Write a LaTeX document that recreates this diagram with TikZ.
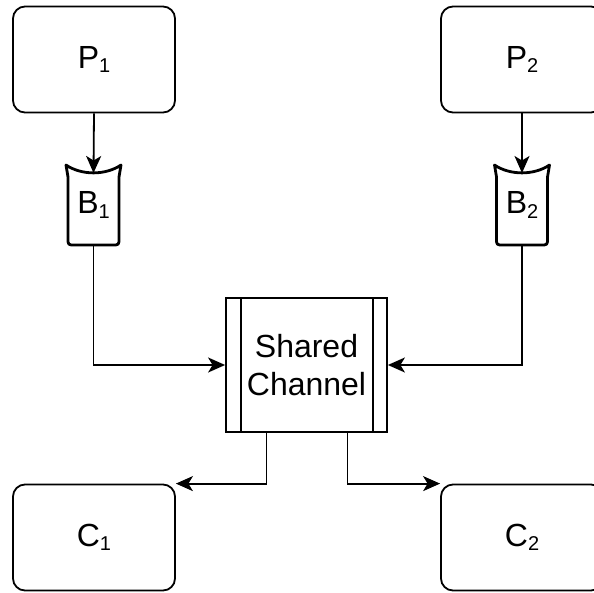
\documentclass[tikz,border=0pt]{standalone}
\usepackage{fontspec}
\setmainfont{Liberation Sans}
\usetikzlibrary{arrows.meta,calc}
\newcommand\lbl[2]{#1\raisebox{-4.5pt}{\fontsize{20}{20}\selectfont #2}}
\newcommand\bufshape[1]{%
  \draw[bufline, shift={(#1.center)}]
    (-27.5,-40) .. controls (-12,-29.5) and (12,-29.5) .. (27.5,-40)
    .. controls (26,-34) .. (25.5,-28) -- (25.5,33)
    .. controls (25.5,40) .. (18.5,40) -- (-18.5,40)
    .. controls (-25.5,40) .. (-25.5,33) -- (-25.5,-28)
    .. controls (-26,-34) .. (-27.5,-40) -- cycle;}
\begin{document}
\begin{tikzpicture}[x=1pt,y=-1pt,
  box/.style={draw, line width=1.8pt, rounded corners=12pt, minimum width=162pt,
    minimum height=106pt, inner sep=0pt, font=\fontsize{32}{38}\selectfont},
  bufnode/.style={minimum width=55pt, minimum height=80pt, inner sep=0pt,
    font=\fontsize{32}{38}\selectfont},
  bufline/.style={line width=2.8pt, line join=round},
  chan/.style={draw, line width=1.8pt, minimum width=161pt, minimum height=134pt,
    inner sep=0pt, align=center, font=\fontsize{32}{38}\selectfont},
  chanline/.style={line width=1.8pt},
  conn/.style={line width=1.8pt, -{Stealth[length=17pt,width=15pt,inset=4.5pt]}}]
\useasboundingbox (0,0) rectangle (594,592);
\clip (0,0) rectangle (594,592);
\fill[white] (0,0) rectangle (594,592);

\node[box] (P1) at (94,59.5) {\lbl{P}{1}};
\node[box] (P2) at (522,59.5) {\lbl{P}{2}};
\node[box] (C1) at (94,537.5) {\lbl{C}{1}};
\node[box] (C2) at (522,537.5) {\lbl{C}{2}};

\node[bufnode] (B1) at (93.5,205) {\lbl{B}{1}};
\node[bufnode] (B2) at (522,205) {\lbl{B}{2}};
\bufshape{B1}
\bufshape{B2}

\node[chan] (Ch) at (306.5,365) {Shared\\Channel};
\draw[chanline] ([xshift=16pt]Ch.north west) -- ([xshift=16pt]Ch.south west);
\draw[chanline] ([xshift=-15pt]Ch.north east) -- ([xshift=-15pt]Ch.south east);

\coordinate (B1in) at ([yshift=32pt]B1.center);
\coordinate (B2in) at ([yshift=32pt]B2.center);
\coordinate (Chl) at ([xshift=-40pt]Ch.south);
\coordinate (Chr) at ([xshift=41pt]Ch.south);

\draw[conn] (P1.south) -- (B1in);
\draw[conn] (P2.south) -- (B2in);
\draw[conn] (B1.south) |- (Ch.west);
\draw[conn] (B2.south) |- (Ch.east);
\draw[conn] (Chl) |- (C1.north east);
\draw[conn] (Chr) |- (C2.north west);
\end{tikzpicture}
\end{document}
